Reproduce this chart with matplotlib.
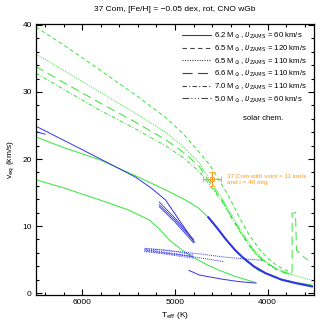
import numpy as np
import matplotlib
matplotlib.use('Agg')
import matplotlib.pyplot as plt
from matplotlib.lines import Line2D

plt.rcParams['font.family'] = ['Liberation Sans', 'DejaVu Sans']
plt.rcParams['mathtext.fontset'] = 'dejavusans'

green = '#33e633'
blue = '#3333e6'
orange = '#ff9919'

# rotating models, CNO wGb (green)
t_62 = [6500, 6200, 5812, 5425, 5102, 4887, 4747, 4640, 4532, 4382, 4242, 4102, 3887, 3700, 3522]
v_62 = [23.3, 21.7, 19.9, 17.5, 15.4, 13.9, 12.7, 11.3, 9.4, 6.9, 4.9, 3.4, 2.2, 1.6, 1.2]

t_65a = [6500, 6200, 5812, 5400, 5092, 4900, 4737, 4620, 4500, 4415, 4307, 4200, 4100, 4000, 3900, 3800, 3740]
v_65a = [39.7, 37.0, 33.3, 29.3, 26.1, 23.6, 21.0, 19.0, 16.3, 14.3, 11.3, 8.7, 6.7, 5.2, 4.1, 3.4, 3.0]

t_65b = [6500, 6200, 5812, 5400, 5092, 4900, 4737, 4630, 4490, 4382, 4270, 4167, 4050, 3920, 3800, 3737, 3600, 3522]
v_65b = [35.7, 33.2, 30.0, 26.6, 23.9, 21.7, 19.4, 17.0, 14.1, 11.5, 8.9, 6.8, 5.0, 3.8, 3.1, 2.8, 2.2, 1.9]

t_66 = [6500, 6200, 5812, 5400, 5092, 4900, 4737, 4630, 4490, 4382, 4270, 4167, 4050, 3920, 3800, 3737, 3737, 3700, 3690, 3570]
v_66 = [33.8, 31.4, 28.4, 25.3, 22.8, 20.9, 18.9, 16.6, 13.8, 11.2, 8.7, 6.6, 4.9, 3.7, 3.0, 2.8, 11.9, 12.0, 6.4, 4.9]

t_70 = [6500, 6200, 5812, 5400, 5092, 4900, 4737, 4630, 4490, 4382, 4270, 4167, 4050, 3920, 3800, 3740]
v_70 = [32.8, 30.4, 27.3, 24.3, 21.9, 20.1, 18.1, 16.2, 13.6, 11.0, 8.5, 6.4, 4.8, 3.6, 2.9, 2.7]

t_50 = [6500, 6200, 5812, 5500, 5275, 5150, 5060, 4930, 4812, 4650, 4522, 4350, 4135]
v_50 = [16.9, 15.7, 13.9, 12.4, 10.9, 9.3, 7.9, 6.5, 5.4, 4.2, 3.4, 2.5, 1.6]

# solar chemistry (blue)
t_b1 = [6500, 6000, 5425, 5250, 5102, 4950, 4790]
v_b1 = [24.9, 21.4, 17.3, 15.6, 13.9, 10.8, 7.6]
t_b1s = [6500, 6400]
v_b1s = [24.1, 23.7]
t_fan = [5170, 5000, 4800]
v_fan = [[13.6, 11.2, 8.0], [13.2, 10.9, 7.8], [12.9, 10.6, 7.5]]
t_b2 = [4640, 4550, 4450, 4350, 4275, 4150, 4027, 3850, 3700, 3522]
v_b2 = [11.3, 9.8, 8.0, 6.4, 5.4, 4.0, 3.0, 2.0, 1.5, 1.0]
t_b3 = [4850, 4737, 4500, 4300, 4124]
v_b3 = [3.4, 2.7, 2.1, 1.7, 1.5]
t_b4 = [5320, 5100, 4900, 4700, 4480, 4250, 4060]
v_b4 = [6.6, 6.4, 6.1, 5.8, 5.4, 5.1, 4.9]
t_b5 = [5320, 5100, 4900, 4700, 4480]
v_b5 = [6.4, 6.0, 5.6, 5.2, 4.7]
t_band = [5330, 5150, 4950, 4800]
v_band = [[6.7, 6.5, 6.1, 5.7], [6.5, 6.2, 5.8, 5.5], [6.3, 6.0, 5.7, 5.4], [6.2, 5.9, 5.5, 5.2]]

# 37 Com
t_obs, v_obs = 4602, 17.0
t_err, v_err = 100, 1.0

labels = [r'6.2 M$_\odot$, $\upsilon_{\rm ZAMS}$ = 60 km/s',
          r'6.5 M$_\odot$, $\upsilon_{\rm ZAMS}$ = 120 km/s',
          r'6.5 M$_\odot$, $\upsilon_{\rm ZAMS}$ = 110 km/s',
          r'6.6 M$_\odot$, $\upsilon_{\rm ZAMS}$ = 110 km/s',
          r'7.0 M$_\odot$, $\upsilon_{\rm ZAMS}$ = 110 km/s',
          r'5.0 M$_\odot$, $\upsilon_{\rm ZAMS}$ = 60 km/s']
styles = ['-', (0, (4, 3)), (0, (1, 1.2)), (0, (9, 5)), (0, (4, 2, 1, 2)), (0, (6, 2, 1, 2, 1, 2, 1, 2))]

fig = plt.figure(figsize=(3.32, 3.32), dpi=100)
ax = fig.add_axes([0.108, 0.111, 0.838, 0.817])

lw = 0.7
ax.plot(t_62, v_62, color=green, lw=lw, ls=styles[0])
ax.plot(t_65a, v_65a, color=green, lw=lw, ls=styles[1])
ax.plot(t_65b, v_65b, color=green, lw=lw, ls=styles[2])
ax.plot(t_66, v_66, color=green, lw=lw, ls=styles[3])
ax.plot(t_70, v_70, color=green, lw=lw, ls=styles[4])
ax.plot(t_50, v_50, color=green, lw=lw, ls='-')

ax.plot(t_b1, v_b1, color=blue, lw=lw)
ax.plot(t_b1s, v_b1s, color=blue, lw=lw)
for vf in v_fan:
    ax.plot(t_fan, vf, color=blue, lw=0.6)
ax.plot(t_b2, v_b2, color=blue, lw=1.5)
ax.plot(t_b3, v_b3, color=blue, lw=lw)
ax.plot(t_b4, v_b4, color=blue, lw=lw, ls=(0, (1, 1)))
ax.plot(t_b5, v_b5, color=blue, lw=lw, ls=(0, (1, 1)))
for vb in v_band:
    ax.plot(t_band, vb, color=blue, lw=0.6, ls=(0, (1, 1)))

ax.errorbar(t_obs, v_obs, xerr=t_err, yerr=v_err, color=orange, lw=0.8,
            capsize=2, capthick=0.8, marker='s', ms=3, mfc='none', mec=orange, mew=0.6)
ax.text(t_obs - 165, v_obs, '37 Com with vsini = 11 km/s\nand i = 40 deg', color=orange,
        fontsize=4.6, va='center', ha='left', linespacing=1.2)

handles = [Line2D([], [], color='#444444', lw=0.8, ls=s) for s in styles]
leg = ax.legend(handles, labels, loc='upper right', frameon=False, fontsize=5.6,
                handlelength=3.8, handletextpad=0.4, labelspacing=0.28,
                borderaxespad=0.0, borderpad=0.0, bbox_to_anchor=(0.975, 0.975))
ax.text(0.817, 0.653, 'solar chem.', transform=ax.transAxes, fontsize=5.6, ha='center', va='center')

ax.set_xlim(6500, 3500)
ax.set_ylim(-0.3, 40.15)
ax.set_xticks([6000, 5000, 4000])
ax.set_xticks(np.arange(3600, 6500, 200), minor=True)
ax.set_yticks([0, 10, 20, 30, 40])
ax.set_yticks(np.arange(0, 41, 2), minor=True)
ax.tick_params(which='both', direction='in', top=True, right=True, labelsize=6, width=0.8, pad=3)
ax.tick_params(which='major', length=4)
ax.tick_params(which='minor', length=2)
for s in ax.spines.values():
    s.set_linewidth(0.9)

ax.set_xlabel(r'T$_{\rm eff}$ (K)', fontsize=6, labelpad=3)
ax.set_ylabel(r'v$_{\rm eq}$ (km/s)', fontsize=6, labelpad=4)
ax.set_title('37 Com, [Fe/H] = \u22120.05 dex, rot, CNO wGb', fontsize=6, pad=9)

fig.savefig('out.png', dpi=100)
